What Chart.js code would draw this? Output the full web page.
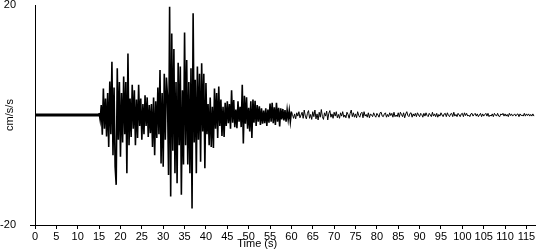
<!DOCTYPE html>
<html>
<head>
<meta charset="utf-8">
<script src="https://cdn.jsdelivr.net/npm/chart.js@4"></script>
<style>
  body { margin: 0; background: #fff; }
  #wrap { width: 550px; height: 250px; }
</style>
</head>
<body>
<div id="wrap"><canvas id="seis" width="550" height="250"></canvas></div>
<script>
// record settings
const startTime = 15;      // s, first sample of the shaking part
const sampleStep = 0.25;   // s between samples
const codaStart = 60;      // s, weak tail drawn with a finer line
const preEventTimes = [0, 15];
const preEventValues = [0, 0];
const yTicks = [-20, 20];

// acceleration in cm/s/s, 4 samples per second from t = 15 s
const accel = [
  // 15 - 30 s
  0.4, -0.9, 1.8, -3.6,    4.8, -2.5, 3.0, -3.9,    4.0, -5.8, 6.1, -3.5,
  9.7, -7.3, 5.0, -9.4,    -12.7, 8.5, -4.5, 6.0,   -7.6, 4.0, -5.0, 7.0,
  -3.5, 6.0, -10.6, 11.2,  -5.5, 3.0, -4.0, 5.5,    -2.5, 4.5, -5.5, 2.8,
  -4.2, 5.5, -2.0, 3.0,    -4.5, 2.0, -3.5, 3.6,    -2.0, 3.2, -4.0, 1.8,
  -3.3, 2.0, -5.8, 3.2,    -7.3, 2.5, -4.2, 5.0,    -3.5, 8.2, -8.8, 4.0,
  // 30 - 45 s
  -9.4, 7.5, -4.5, 6.8,    3.5, -10.9, 19.7, -14.8, 14.8, -6.5, 12.0, -10.6,
  6.0, -12.4, 9.5, -5.5,   8.8, -14.5, 4.5, -9.0,   15.0, -5.5, 10.0, -9.0,
  6.0, -10.6, 8.5, -17.0,  18.5, -5.0, 6.4, -10.6,  8.8, -4.5, 7.5, -8.5,
  9.4, -3.0, 7.5, -9.7,    5.8, -3.5, 2.0, -5.5,    3.2, -5.8, 1.5, -6.0,
  4.8, -2.5, 4.0, -4.2,    5.2, -2.0, 2.8, -3.8,    1.5, -4.0, 2.2, -2.0,
  // 45 - 60 s
  2.5, -1.5, 2.0, -2.5,    4.5, -1.4, 2.7, -2.2,    1.0, -2.4, 2.5, -1.2,
  1.5, -2.2, 5.5, -5.2,    3.5, -1.6, 3.2, -2.5,    1.3, -3.0, 2.5, -4.2,
  2.8, -1.4, 2.6, -2.0,    1.8, -1.2, 1.6, -1.8,    1.2, -1.6, 0.8, -1.5,
  1.2, -2.0, 1.0, -1.4,    2.1, -1.2, 2.2, -1.5,    1.4, -1.8, 2.2, -1.2,
  1.3, -2.1, 1.2, -0.8,    1.1, -1.0, 0.9, -1.2,    0.9, -0.8, 0.8, -1.2,
  // 60 - 75 s
  0.6, 0.1, -0.6, 0.2,     -0.7, 0.4, -0.2, 0.6,    -0.5, 0.0, 0.5, -0.6,
  0.9, -0.2, -0.7, 0.3,    0.8, -0.6, 0.1, -0.8,    0.6, -0.3, 0.9, -0.7,
  0.2, -0.9, 0.5, -0.4,    1.0, -0.3, -0.8, 0.4,    -0.2, 0.7, -0.9, 0.3,
  0.8, -0.4, 0.2, -0.6,    0.5, -0.2, 0.6, -0.5,    0.1, -0.6, 0.4, -0.2,
  0.6, -0.4, 0.0, -0.5,    0.5, 0.1, -0.6, 0.3,     0.9, -0.3, 0.4, -0.4,
  // 75 - 90 s
  0.2, -0.5, 0.6, -0.1,    -0.4, 0.3, 0.5, -0.5,    0.6, -0.2, 0.1, -0.4,
  0.4, -0.5, 0.2, 0.0,     -0.3, 0.4, -0.1, -0.4,   0.3, 0.0, -0.4, 0.4,
  0.5, -0.2, -0.3, 0.2,    0.4, -0.4, 0.1, -0.3,    0.4, -0.1, 0.3, -0.4,
  0.5, -0.3, 0.0, -0.3,    0.4, -0.4, 0.5, 0.1,     -0.3, 0.4, -0.5, 0.2,
  0.6, -0.1, -0.3, 0.3,    0.4, -0.4, 0.2, -0.2,    0.3, -0.3, 0.4, 0.0,
  // 90 - 105 s
  -0.3, 0.3, 0.1, -0.4,    0.3, -0.2, 0.4, -0.1,    -0.3, 0.3, 0.0, -0.3,
  0.5, -0.2, 0.2, -0.3,    0.3, -0.4, 0.1, -0.2,    0.4, 0.0, -0.3, 0.2,
  0.3, -0.3, 0.4, -0.1,    -0.3, 0.2, 0.3, -0.3,    0.5, -0.2, 0.1, -0.3,
  0.3, 0.0, -0.3, 0.2,     0.3, -0.3, 0.4, -0.1,    0.3, -0.2, 0.0, -0.3,
  0.2, 0.3, -0.2, 0.1,     0.3, -0.2, 0.2, -0.3,    0.0, 0.3, -0.3, 0.2,
  // 105 - 117 s
  -0.2, 0.1, 0.3, -0.2,    0.3, -0.3, 0.0, -0.2,    0.2, -0.3, 0.3, 0.0,
  -0.2, 0.3, -0.2, -0.3,   0.2, 0.0, 0.3, -0.2,     0.2, -0.2, 0.1, -0.3,
  0.3, -0.1, 0.2, -0.2,    0.0, 0.2, -0.2, 0.1,     0.2, -0.3, 0.2, -0.1,
  0.0, -0.2, 0.3, -0.2,    0.2, -0.1, 0.2, -0.2,    0.1, -0.2, 0.2, -0.2
];

const points = accel.map((v, i) => ({ x: startTime + i * sampleStep, y: v }));
const prePoints = preEventTimes.map((t, i) => ({ x: t, y: preEventValues[i] }));

const font = { family: 'Liberation Sans, Arial, sans-serif', size: 11 };

// x axis title sits left of centre in the original
const xTitle = {
  id: 'xTitle',
  afterDraw(chart) {
    const c = chart.ctx;
    const xs = chart.scales.x;
    c.save();
    c.fillStyle = '#000';
    c.font = '11px ' + font.family;
    c.textAlign = 'center';
    c.textBaseline = 'middle';
    c.fillText('Time (s)', xs.getPixelForValue(52), 244);
    c.restore();
  }
};

new Chart(document.getElementById('seis'), {
  type: 'line',
  data: {
    datasets: [{
      data: prePoints,
      borderColor: '#000',
      borderWidth: 3,
      pointRadius: 0
    },
    {
      data: points,
      borderColor: '#000',
      borderWidth: 1.6,
      pointRadius: 0,
      tension: 0,
      segment: {
        borderWidth: ctx => ctx.p0.parsed.x < codaStart ? 1.6 : 1
      }
    }]
  },
  options: {
    responsive: false,
    animation: false,
    events: [],
    layout: { padding: { top: 5, right: 15, left: 0, bottom: 0 } },
    scales: {
      x: {
        type: 'linear',
        min: 0,
        max: 117,
        border: { color: '#000', width: 1 },
        grid: { drawOnChartArea: false, tickLength: 4, color: '#000' },
        ticks: {
          stepSize: 5,
          includeBounds: false,
          autoSkip: false,
          maxRotation: 0,
          padding: 1,
          color: '#000',
          font: font
        },
        afterFit(s) { s.height = 25; s.paddingLeft = 0; s.paddingRight = 0; }
      },
      y: {
        min: -20,
        max: 20,
        border: { color: '#000', width: 1 },
        grid: {
          drawOnChartArea: false,
          tickLength: 5,
          color: (ctx) => ctx.tick && ctx.tick.value === 20 ? 'rgba(0,0,0,0)' : '#000'
        },
        afterBuildTicks(s) { s.ticks = yTicks.map(v => ({ value: v })); },
        ticks: { padding: 14, color: '#000', font: font },
        title: {
          display: true,
          text: 'cm/s/s',
          color: '#000',
          font: font,
          padding: { top: 3, bottom: 0 }
        },
        afterFit(s) { s.width = 35; s.paddingTop = 0; s.paddingBottom = 0; }
      }
    },
    plugins: {
      legend: { display: false },
      tooltip: { enabled: false }
    }
  },
  plugins: [xTitle]
});
</script>
</body>
</html>
